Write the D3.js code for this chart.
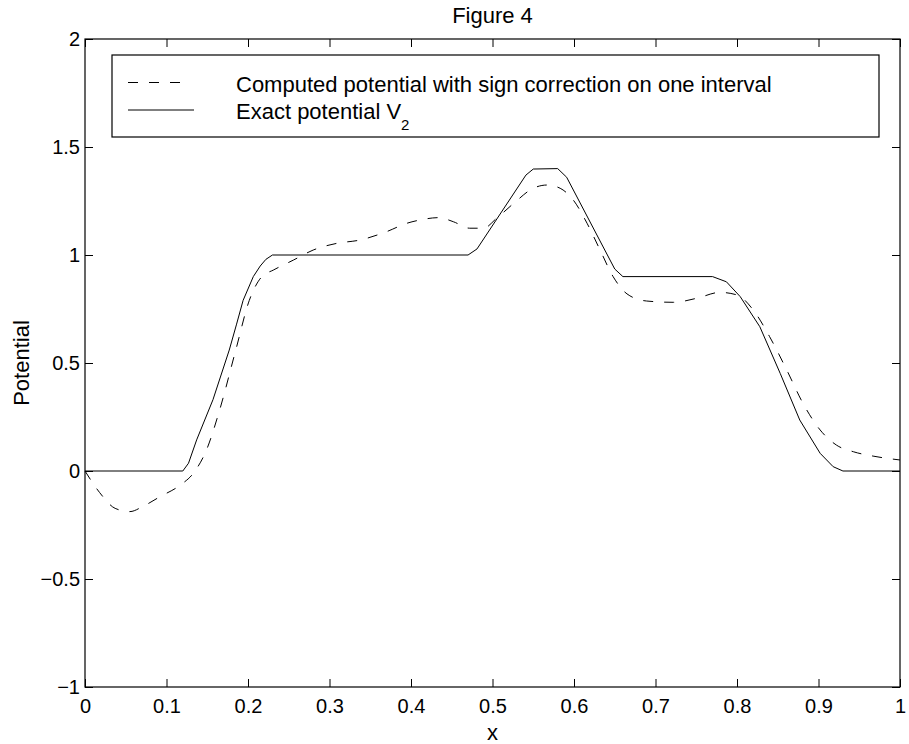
<!DOCTYPE html>
<html>
<head>
<meta charset="utf-8">
<script src="https://cdn.jsdelivr.net/npm/d3@7"></script>
<style>
  body { margin: 0; background: #fff; }
  svg { display: block; }
  text { font-family: "Liberation Sans", Arial, Helvetica, sans-serif; fill: #000; }
</style>
</head>
<body>
<div id="chart"></div>
<script>
// values
var xTicks = [0, 0.1, 0.2, 0.3, 0.4, 0.5, 0.6, 0.7, 0.8, 0.9, 1];
var yTicks = [-1, -0.5, 0, 0.5, 1, 1.5, 2];

var exactX = [0, 0.12, 0.127, 0.137, 0.157, 0.177, 0.186, 0.194, 0.2065, 0.215, 0.222, 0.23,
  0.47, 0.481, 0.541, 0.55, 0.58, 0.591, 0.65, 0.66, 0.77, 0.787, 0.804, 0.828,
  0.853, 0.877, 0.902, 0.918, 0.93, 1];
var exactY = [0, 0, 0.036, 0.144, 0.33, 0.56, 0.68, 0.79, 0.90, 0.949, 0.98, 1,
  1, 1.028, 1.37, 1.398, 1.4, 1.36, 0.935, 0.9, 0.9, 0.876, 0.807, 0.668,
  0.452, 0.236, 0.082, 0.02, 0, 0];

var computedX = [0, 0.018, 0.037, 0.055, 0.072, 0.092, 0.117, 0.133, 0.149, 0.165,
  0.185, 0.2016, 0.217, 0.231, 0.256, 0.28, 0.309, 0.337, 0.37, 0.395, 0.411, 0.434,
  0.452, 0.472, 0.489, 0.505, 0.526, 0.55, 0.567, 0.583, 0.599, 0.616, 0.632, 0.648,
  0.665, 0.689, 0.722, 0.751, 0.779, 0.8, 0.82, 0.84, 0.861, 0.881, 0.902, 0.922,
  0.943, 0.967, 1];
var computedY = [0, -0.1, -0.173, -0.188, -0.162, -0.119, -0.065, -0.01, 0.097, 0.28,
  0.56, 0.79, 0.9, 0.93, 0.977, 1.023, 1.054, 1.069, 1.108, 1.147, 1.162, 1.173,
  1.154, 1.124, 1.124, 1.17, 1.239, 1.309, 1.324, 1.309, 1.255, 1.147, 1.023, 0.9,
  0.82, 0.787, 0.781, 0.8, 0.827, 0.815, 0.745, 0.622, 0.468, 0.313, 0.19, 0.12,
  0.089, 0.069, 0.051];

var legendLabels = ['Computed potential with sign correction on one interval', 'Exact potential V'];

var W = 909, H = 744;
var margin = {top: 39, right: 9, bottom: 57, left: 85};
var width = W - margin.left - margin.right,
    height = H - margin.top - margin.bottom;

var svg = d3.select('#chart').append('svg')
    .attr('width', W)
    .attr('height', H);

var g = svg.append('g')
    .attr('transform', 'translate(' + margin.left + ',' + margin.top + ')');

var x = d3.scaleLinear().domain([0, 1]).range([0, width]);
var y = d3.scaleLinear().domain([-1, 2]).range([height, 0]);

var fmt = function(d){ return d < 0 ? '\u2212' + Math.abs(d) : String(d); };

// axes, ticks point inward like matlab
function styleAxis(sel){
    sel.select('.domain').remove();
    sel.selectAll('line').attr('stroke', '#000').attr('stroke-width', 1);
    sel.selectAll('text').style('font-size', '20px');
}

g.append('g')
    .attr('transform', 'translate(0,' + height + ')')
    .call(d3.axisBottom(x).tickValues(xTicks).tickSize(-8).tickPadding(12).tickFormat(fmt))
    .call(styleAxis);

g.append('g')
    .call(d3.axisTop(x).tickValues(xTicks).tickSize(-8).tickFormat(''))
    .call(styleAxis);

g.append('g')
    .call(d3.axisLeft(y).tickValues(yTicks).tickSize(-8).tickPadding(5).tickFormat(fmt))
    .call(styleAxis);

g.append('g')
    .attr('transform', 'translate(' + width + ',0)')
    .call(d3.axisRight(y).tickValues(yTicks).tickSize(-8).tickFormat(''))
    .call(styleAxis);

g.append('rect')
    .attr('width', width)
    .attr('height', height)
    .attr('fill', 'none')
    .attr('stroke', '#000')
    .attr('stroke-width', 1.2);

// curves
var exact = exactX.map(function(d, i){ return [d, exactY[i]]; });
var computed = computedX.map(function(d, i){ return [d, computedY[i]]; });

var lineLinear = d3.line()
    .x(function(d){ return x(d[0]); })
    .y(function(d){ return y(d[1]); });
var lineSmooth = d3.line()
    .curve(d3.curveMonotoneX)
    .x(function(d){ return x(d[0]); })
    .y(function(d){ return y(d[1]); });

g.append('path')
    .datum(computed)
    .attr('d', lineSmooth)
    .attr('fill', 'none')
    .attr('stroke', '#000')
    .attr('stroke-width', 1)
    .attr('stroke-dasharray', '10,11');

g.append('path')
    .datum(exact)
    .attr('d', lineLinear)
    .attr('fill', 'none')
    .attr('stroke', '#000')
    .attr('stroke-width', 1);

// legend
var legend = svg.append('g').attr('transform', 'translate(112,55)');
legend.append('rect')
    .attr('width', 767)
    .attr('height', 82)
    .attr('fill', '#fff')
    .attr('stroke', '#000')
    .attr('stroke-width', 1.2);

legend.append('line')
    .attr('x1', 16).attr('x2', 72).attr('y1', 27.5).attr('y2', 27.5)
    .attr('stroke', '#000').attr('stroke-dasharray', '10,11');
legend.append('line')
    .attr('x1', 16).attr('x2', 82).attr('y1', 55).attr('y2', 55)
    .attr('stroke', '#000');

legend.append('text')
    .attr('x', 124).attr('y', 36.5)
    .style('font-size', '22px')
    .text(legendLabels[0]);

var t2 = legend.append('text')
    .attr('x', 124).attr('y', 64)
    .style('font-size', '22px')
    .text(legendLabels[1]);
t2.append('tspan')
    .attr('dy', 11)
    .style('font-size', '15px')
    .text('2');

// titles
svg.append('text')
    .attr('x', margin.left + width / 2).attr('y', 22.5)
    .attr('text-anchor', 'middle')
    .style('font-size', '22px')
    .text('Figure 4');

svg.append('text')
    .attr('x', margin.left + width / 2).attr('y', 740)
    .attr('text-anchor', 'middle')
    .style('font-size', '22px')
    .text('x');

svg.append('text')
    .attr('transform', 'translate(29,' + (margin.top + height / 2) + ') rotate(-90)')
    .attr('text-anchor', 'middle')
    .style('font-size', '22px')
    .text('Potential');
</script>
</body>
</html>
